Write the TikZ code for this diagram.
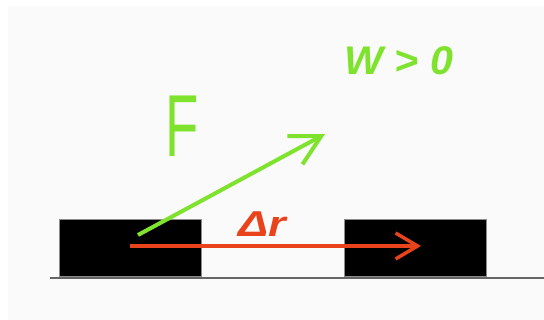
\documentclass[tikz,border=0pt]{standalone}
\usepackage{fontspec}
\setmainfont{Liberation Sans}
\usetikzlibrary{arrows.meta}
\definecolor{limeg}{HTML}{7FE32E}
\definecolor{redo}{HTML}{E8431A}
\definecolor{bgg}{HTML}{FAFAFA}
\begin{document}
\begin{tikzpicture}[x=1pt,y=-1pt,
  block/.style={draw=black!45,line width=0.8pt,fill=black,minimum width=142pt,minimum height=57pt,inner sep=0pt,anchor=north west},
  forcearrow/.style={draw=limeg,line width=4pt,-{Straight Barb[length=30pt,width=32pt,line width=4pt]}},
  disparrow/.style={draw=redo,line width=3.5pt,-{Straight Barb[length=22pt,width=26pt,line width=3.5pt]}},
  lbl/.style={inner sep=0pt,anchor=base west}]
\useasboundingbox (0,0) rectangle (544,320);
\fill[white] (0,0) rectangle (544,320);
\fill[bgg] (8,6) rectangle (544,320);
\draw[black!60,line width=1.8pt] (50,278) -- (544,278);
\node[block] (b1) at (59,219) {};
\node[block] (b2) at (344,219) {};
\coordinate (fs) at (138,235);
\coordinate (fe) at (325,134);
\coordinate (rs) at (130,246);
\coordinate (re) at (421,246);
\draw[disparrow] (rs) -- (re);
\draw[forcearrow] (fs) -- (fe);
\node[lbl,text=limeg,font=\fontsize{88}{88}\selectfont,xscale=0.62] (F) at (165,157) {F};
\node[lbl,text=limeg,font=\bfseries\itshape\fontsize{40}{40}\selectfont,xscale=1.03] (W) at (344,75) {W > 0};
\node[lbl,text=redo,font=\bfseries\itshape\fontsize{36}{36}\selectfont,xscale=1.25] (dr) at (238,237) {Δr};
\end{tikzpicture}
\end{document}
